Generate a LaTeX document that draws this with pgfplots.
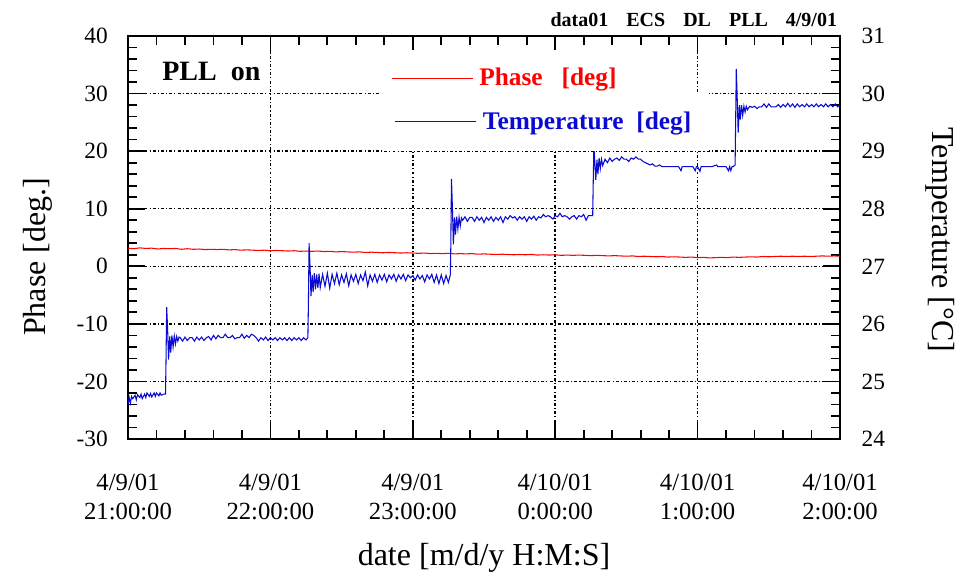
\documentclass[border=0pt]{standalone}
\usepackage{fontspec}
\setmainfont{Liberation Serif}
\usepackage{pgfplots}
\pgfplotsset{compat=1.18}

\begin{document}
\begin{tikzpicture}
% frame and ticks (drawn first)
\begin{axis}[name=a, scale only axis, width=534pt, height=302.25pt,
  xmin=0, xmax=300, ymin=-30, ymax=40,
  xtick={0,60,...,300}, minor x tick num=4,
  ytick={-30,-20,...,40}, minor y tick num=4,
  xticklabels={}, yticklabels={},
  major tick length=13pt, minor tick length=7pt,
  tick style={black, line width=1.3pt},
  axis line style={black, line width=1.8pt},
]
\addplot[draw=none] coordinates {(0,0) (300,0)};
\end{axis}
% phase axis with grid and labels
\begin{axis}[scale only axis, width=534pt, height=302.25pt,
  xmin=0, xmax=300, ymin=-30, ymax=40,
  xtick={0,60,120,180,240,300},
  xticklabels={{4/9/01\\21:00:00},{4/9/01\\22:00:00},{4/9/01\\23:00:00},{4/10/01\\0:00:00},{4/10/01\\1:00:00},{4/10/01\\2:00:00}},
  x tick label style={align=center, inner sep=0pt, yshift=-26pt, font=\fontsize{18.5}{22}\selectfont},
  y tick label style={inner sep=0pt, xshift=-15pt, font=\fontsize{17.5}{21}\selectfont},
  /pgf/number format/assume math mode=true,
  ytick={-30,-20,...,40},
  ytick pos=left,
  major tick length=0pt,
  axis line style={draw=none},
  grid=major,
  major grid style={black, line width=1.1pt, dash pattern=on 2.2pt off 1.6pt on 0.8pt off 1.6pt},
  xlabel={date [m/d/y H:M:S]},
  xlabel style={at={(axis description cs:0.5,0)}, anchor=center, yshift=-89pt, font=\fontsize{24}{28}\selectfont},
  ylabel={Phase [deg.]},
  ylabel style={at={(axis description cs:-0.1273,0.452)}, anchor=center, font=\fontsize{24}{28}\selectfont},
  legend image code/.code={\draw[#1] (0pt,0pt) -- (61pt,0pt);},
  legend style={at={(0.354,0.965)}, anchor=north west, draw=white, fill=white, text=red,
    inner xsep=8pt, inner ysep=9pt, nodes={inner sep=4.5pt},
    font=\bfseries\fontsize{19}{22}\selectfont},
]
\addplot[red, line width=0.8pt] table[x=t, y=p] {
t p
0 3.15
2.5 3.05
5 3.2
7.5 3.1
10 3.15
12.5 3.0
15 3.1
17.5 3.05
20 3.1
22.5 2.95
25 3.05
27.5 2.95
30 3.0
32.5 2.9
35 2.95
37.5 2.9
40 2.95
42.5 2.85
45 2.9
47.5 2.8
50 2.85
52.5 2.8
55 2.75
57.5 2.8
60 2.7
62.5 2.75
65 2.7
67.5 2.65
70 2.7
72.5 2.6
75 2.65
77.5 2.6
80 2.65
82.5 2.55
85 2.6
87.5 2.5
90 2.55
92.5 2.5
95 2.45
97.5 2.5
100 2.4
102.5 2.45
105 2.4
107.5 2.35
110 2.4
112.5 2.35
115 2.3
117.5 2.35
120 2.3
122.5 2.25
125 2.3
127.5 2.2
130 2.25
132.5 2.2
135 2.25
137.5 2.15
140 2.2
142.5 2.15
145 2.2
147.5 2.1
150 2.15
152.5 2.1
155 2.05
157.5 2.1
160 2.05
162.5 2.0
165 2.05
167.5 2.0
170 2.05
172.5 1.95
175 2.0
177.5 1.95
180 2.0
182.5 1.9
185 1.95
187.5 1.9
190 1.95
192.5 1.9
195 1.85
197.5 1.9
200 1.85
202.5 1.8
205 1.85
207.5 1.8
210 1.75
212.5 1.8
215 1.7
217.5 1.75
220 1.7
222.5 1.65
225 1.7
227.5 1.6
230 1.65
232.5 1.6
235 1.55
237.5 1.6
240 1.5
242.5 1.55
245 1.45
247.5 1.5
250 1.55
252.5 1.5
255 1.6
257.5 1.55
260 1.6
262.5 1.65
265 1.6
267.5 1.7
270 1.65
272.5 1.7
275 1.75
277.5 1.7
280 1.75
282.5 1.7
285 1.75
287.5 1.7
290 1.75
292.5 1.8
295 1.75
297.5 1.8
300 1.75
};
\addlegendentry{Phase\ \ \ [deg]}
\node[font=\bfseries\fontsize{21}{25}\selectfont] at (rel axis cs:0.117,0.911) {PLL\ \ on};
\end{axis}
% temperature axis
\begin{axis}[scale only axis, width=534pt, height=302.25pt,
  xmin=0, xmax=300, ymin=24, ymax=31,
  axis x line=none, axis y line*=right,
  axis line style={draw=none},
  ytick={24,25,...,31},
  major tick length=0pt,
  /pgf/number format/assume math mode=true,
  y tick label style={inner sep=0pt, xshift=16pt, font=\fontsize{17.5}{21}\selectfont},
  ylabel={Temperature [°C]},
  ylabel style={at={(axis description cs:1.1404,0.494)}, anchor=center, rotate=180, font=\fontsize{24}{28}\selectfont},
  legend image code/.code={\draw[#1] (0pt,0pt) -- (61pt,0pt);},
  legend style={at={(0.359,0.861)}, anchor=north west, draw=white, fill=white, text={rgb,255:red,10;green,10;blue,210},
    inner xsep=8pt, inner ysep=10pt, nodes={inner sep=4.5pt},
    font=\bfseries\fontsize{19}{22}\selectfont},
]
\addplot[color={rgb,255:red,10;green,10;blue,210}, line width=0.8pt] table[x=t, y=T] {
t T
0 24.60
0.5 24.72
1 24.62
1.5 24.74
2 24.70
3 24.76
3.5 24.68
4 24.77
5 24.72
5.5 24.78
6 24.70
7 24.78
7.5 24.72
8 24.80
9 24.74
9.5 24.79
10 24.73
11 24.80
11.5 24.74
12 24.80
13 24.75
13.5 24.80
14 24.76
15 24.78
15.8 24.78
16.0 25.3
16.3 26.29
16.7 25.9
17.1 25.38
17.6 25.78
18.0 25.50
18.5 25.80
19.0 25.60
19.5 25.79
20.0 25.65
20.5 25.78
21 25.70
21.5 25.77
22 25.76
23 25.70
24 25.77
25 25.71
26 25.76
27 25.76
28 25.70
29 25.77
30 25.72
31 25.77
32 25.71
33 25.76
34 25.78
35 25.72
36 25.80
37 25.74
38 25.80
39 25.76
40 25.76
41 25.82
42 25.76
43 25.76
44 25.80
45 25.74
46 25.76
47 25.76
48 25.82
49 25.75
50 25.80
51 25.76
52 25.82
53 25.80
54 25.76
55 25.70
56 25.76
57 25.72
58 25.77
59 25.71
60 25.76
61 25.72
62 25.76
63 25.71
64 25.76
65 25.72
66 25.76
67 25.71
68 25.76
69 25.71
70 25.76
71 25.72
72 25.76
73 25.71
74 25.76
75 25.72
75.8 25.76
76.0 26.3
76.3 27.40
76.7 27.0
77.1 26.48
77.6 26.85
78.0 26.55
78.5 26.88
79.0 26.60
79.5 26.86
80 26.62
80.5 26.87
81 26.63
82 26.86
83 26.65
84 26.88
85 26.62
86 26.86
87 26.70
88 26.88
89 26.68
90 26.85
91 26.72
92 26.87
93 26.66
94 26.85
95 26.74
96 26.86
97 26.70
98 26.85
99 26.75
100 26.90
101 26.66
102 26.85
103 26.74
104 26.86
105 26.72
106 26.85
107 26.76
108 26.86
109 26.73
110 26.85
111 26.78
112 26.86
113 26.74
114 26.85
115 26.78
116 26.86
117 26.75
118 26.85
119 26.80
120 26.84
121 26.76
122 26.85
123 26.78
124 26.84
125 26.73
126 26.85
127 26.78
128 26.86
129 26.72
130 26.85
131 26.70
132 26.85
133 26.70
134 26.84
135 26.72
135.8 26.85
136.0 27.3
136.3 28.52
136.7 28.0
137.1 27.38
137.6 27.85
138 27.55
138.5 27.86
139 27.65
139.5 27.85
140 27.70
140.5 27.84
141 27.80
142 27.86
143 27.78
144 27.85
145 27.85
146 27.78
147 27.86
148 27.80
149 27.85
150 27.76
151 27.85
152 27.80
153 27.86
154 27.78
155 27.85
156 27.80
157 27.86
158 27.76
159 27.86
160 27.82
161 27.88
162 27.84
163 27.86
164 27.80
165 27.86
166 27.82
167 27.86
168 27.78
169 27.86
170 27.82
171 27.87
172 27.80
173 27.86
174 27.84
175 27.90
176 27.86
177 27.88
178 27.86
179 27.82
180 27.88
181 27.86
182 27.92
183 27.86
184 27.88
185 27.86
186 27.82
187 27.86
188 27.88
189 27.82
190 27.88
191 27.86
192 27.90
193 27.80
194 27.88
195 27.88
195.8 27.88
196 28.4
196.3 29.10
196.7 28.8
197.1 28.50
197.6 28.85
198 28.60
198.5 28.88
199 28.70
199.5 28.86
200 28.75
201 28.86
202 28.80
203 28.88
204 28.82
205 28.86
206 28.88
207 28.84
208 28.90
209 28.86
210 28.86
211 28.82
212 28.88
213 28.86
214 28.90
215 28.86
216 28.86
217 28.82
218 28.80
219 28.78
220 28.76
221 28.78
222 28.74
223 28.74
224 28.76
225 28.73
226 28.73
228 28.73
230 28.73
232 28.73
233 28.66
233.5 28.73
236 28.73
238 28.73
239 28.66
239.5 28.73
240 28.73
241 28.65
241.5 28.73
244 28.73
246 28.73
248 28.76
248.5 28.73
252 28.73
253 28.66
253.5 28.73
254 28.66
254.5 28.73
255 28.73
255.8 28.76
256 29.4
256.3 30.43
256.7 29.9
257.1 29.32
257.6 29.80
258 29.55
258.5 29.80
259 29.62
259.5 29.78
260 29.68
260.5 29.78
261 29.72
262 29.78
263 29.76
264 29.78
265 29.74
266 29.77
267 29.77
268 29.82
269 29.76
270 29.82
271 29.77
272 29.77
273 29.77
274 29.81
275 29.76
276 29.81
277 29.77
278 29.83
279 29.77
280 29.82
281 29.76
282 29.82
283 29.77
284 29.81
285 29.77
286 29.82
287 29.77
288 29.81
289 29.77
290 29.82
291 29.77
292 29.81
293 29.77
294 29.82
295 29.77
296 29.81
297 29.77
298 29.82
299 29.77
300 29.80
};
\addlegendentry{Temperature\ \ [deg]}
\end{axis}
\node[anchor=base east, inner sep=0pt, font=\bfseries\fontsize{15}{18}\selectfont] at ([xshift=-2pt,yshift=7pt]a.north east) {data01\hspace{0.9em}ECS\hspace{0.9em}DL\hspace{0.9em}PLL\hspace{0.9em}4/9/01};
\path ([xshift=-96pt,yshift=-99.75pt]a.south west) rectangle ([xshift=90pt,yshift=27pt]a.north east);
\end{tikzpicture}
\end{document}
